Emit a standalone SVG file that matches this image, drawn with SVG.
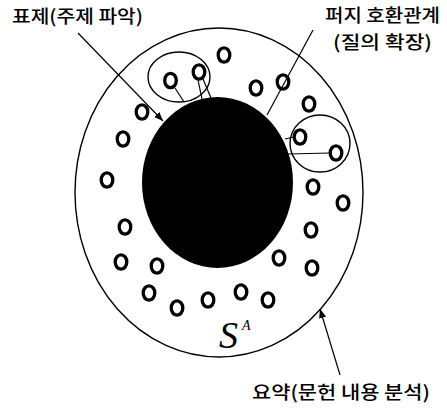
<svg xmlns="http://www.w3.org/2000/svg" width="447" height="408" viewBox="0 0 447 408">
<defs>
<marker id="ah" viewBox="0 0 10 10" refX="10" refY="5" markerWidth="9" markerHeight="9" markerUnits="userSpaceOnUse" orient="auto">
<path d="M0,1 L10,5 L0,9 Z" fill="#000"/>
</marker>
</defs>
<style>
.lbl{font-family:"Noto Sans CJK KR","Noto Sans",sans-serif;font-size:18px;font-weight:500;fill:#000}
.dot{fill:none;stroke:#000;stroke-width:3.3}
.thin{fill:none;stroke:#000;stroke-width:1.4}
.ln{stroke:#000;stroke-width:1.2;fill:none}
</style>
<rect width="447" height="408" fill="#fff"/>
<g id="outer"><ellipse cx="219" cy="192.5" rx="144" ry="164.5" class="thin"/></g>
<g id="core"><ellipse cx="217.5" cy="182.5" rx="75.5" ry="85.5" fill="#000"/></g>
<g id="cluster1"><ellipse cx="179" cy="77" rx="31" ry="25" class="thin"/></g>
<g id="cluster2"><ellipse cx="320" cy="143.5" rx="30" ry="28.5" class="thin"/></g>
<g id="connectors">
<line x1="175" y1="88" x2="184" y2="102" class="ln"/>
<line x1="198" y1="80" x2="202" y2="99" class="ln"/>
<line x1="203" y1="79" x2="211" y2="98" class="ln"/>
<line x1="294" y1="137" x2="285" y2="139" class="ln"/>
<line x1="330" y1="153" x2="288" y2="154" class="ln"/>
<line x1="78" y1="33" x2="163" y2="121" class="ln" marker-end="url(#ah)"/>
<line x1="313" y1="30" x2="267" y2="115" class="ln"/>
<line x1="340" y1="375" x2="320" y2="309" class="ln" marker-end="url(#ah)"/>
</g>
<g id="docs">
<ellipse cx="170.5" cy="80.5" rx="5.8" ry="7.2" class="dot"/>
<ellipse cx="199" cy="72" rx="5.8" ry="7.2" class="dot"/>
<ellipse cx="224" cy="55" rx="5.8" ry="7.2" class="dot"/>
<ellipse cx="142" cy="112" rx="5.8" ry="7.2" class="dot"/>
<ellipse cx="256" cy="88" rx="5.8" ry="7.2" class="dot"/>
<ellipse cx="283" cy="82" rx="5.8" ry="7.2" class="dot"/>
<ellipse cx="309" cy="104" rx="5.8" ry="7.2" class="dot"/>
<ellipse cx="300" cy="137" rx="5.8" ry="7.2" class="dot"/>
<ellipse cx="336" cy="153" rx="5.8" ry="7.2" class="dot"/>
<ellipse cx="123" cy="139" rx="5.8" ry="7.2" class="dot"/>
<ellipse cx="107" cy="180" rx="5.8" ry="7.2" class="dot"/>
<ellipse cx="125" cy="227" rx="5.8" ry="7.2" class="dot"/>
<ellipse cx="121" cy="262" rx="5.8" ry="7.2" class="dot"/>
<ellipse cx="157" cy="266" rx="5.8" ry="7.2" class="dot"/>
<ellipse cx="313" cy="187" rx="5.8" ry="7.2" class="dot"/>
<ellipse cx="343" cy="203" rx="5.8" ry="7.2" class="dot"/>
<ellipse cx="311" cy="230" rx="5.8" ry="7.2" class="dot"/>
<ellipse cx="312" cy="268" rx="5.8" ry="7.2" class="dot"/>
<ellipse cx="279" cy="258" rx="5.8" ry="7.2" class="dot"/>
<ellipse cx="149" cy="293" rx="5.8" ry="7.2" class="dot"/>
<ellipse cx="177" cy="308" rx="5.8" ry="7.2" class="dot"/>
<ellipse cx="208" cy="300" rx="5.8" ry="7.2" class="dot"/>
<ellipse cx="241" cy="292" rx="5.8" ry="7.2" class="dot"/>
<ellipse cx="268" cy="300" rx="5.8" ry="7.2" class="dot"/>
</g>
<g id="labels">
<text class="lbl" x="12" y="23" textLength="131" lengthAdjust="spacingAndGlyphs">표제(주제 파악)</text>
<text class="lbl" x="325" y="22" textLength="115" lengthAdjust="spacingAndGlyphs">퍼지 호환관계</text>
<text class="lbl" x="333" y="49" textLength="99" lengthAdjust="spacingAndGlyphs">(질의 확장)</text>
<text class="lbl" x="252" y="399" textLength="178" lengthAdjust="spacingAndGlyphs">요약(문헌 내용 분석)</text>
<text x="219" y="348" font-family="Liberation Serif,serif" font-style="italic" font-size="38">S</text>
<text x="242" y="330" font-family="Liberation Serif,serif" font-style="italic" font-size="14">A</text>
</g>
</svg>
